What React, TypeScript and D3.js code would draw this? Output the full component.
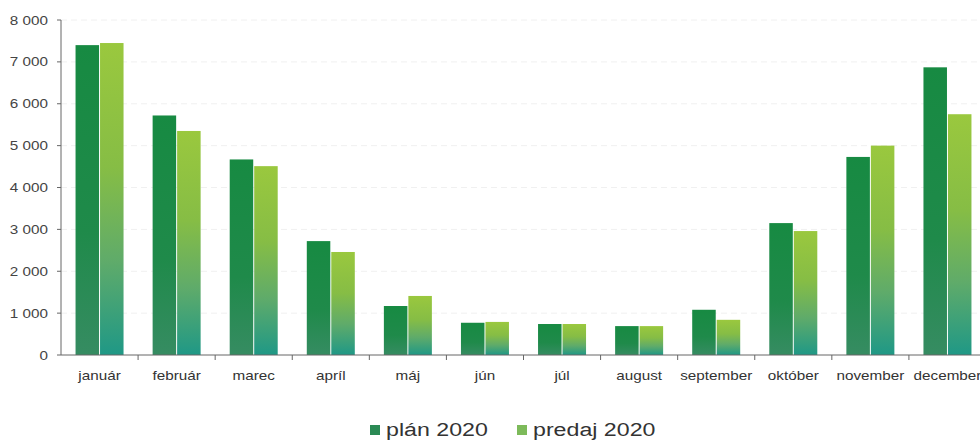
import React, { useRef, useEffect } from "react";
import * as d3 from "d3";

const months = [
  "január", "február", "marec", "apríl", "máj", "jún",
  "júl", "august", "september", "október", "november", "december",
];
const plan2020 = [7400, 5720, 4670, 2720, 1170, 770, 740, 690, 1080, 3150, 4730, 6870];
const predaj2020 = [7450, 5350, 4510, 2460, 1410, 790, 740, 690, 840, 2960, 5000, 5750];
const seriesNames = ["plán 2020", "predaj 2020"];
const yTicks = [0, 1000, 2000, 3000, 4000, 5000, 6000, 7000, 8000];

const W = 980;
const H = 440;
const margin = { top: 20, right: -6, bottom: 85, left: 61 };
const SX = 1.22; // the picture's text is stretched horizontally
const FONT = "Liberation Sans, Arial, sans-serif";

const fmt = (v: number) => d3.format(",")(v).replace(/,/g, " ");

const App = () => {
  const svgRef = useRef<SVGSVGElement>(null);

  useEffect(() => {
    document.body.style.margin = "0";
    const svg = d3.select(svgRef.current);
    svg.selectAll("*").remove();

    const defs = svg.append("defs");
    const g1 = defs.append("linearGradient").attr("id", "gPlan").attr("x1", 0).attr("y1", 0).attr("x2", 0).attr("y2", 1);
    g1.append("stop").attr("offset", "0%").attr("stop-color", "#178a42");
    g1.append("stop").attr("offset", "60%").attr("stop-color", "#1f8a4a");
    g1.append("stop").attr("offset", "100%").attr("stop-color", "#368c62");
    const g2 = defs.append("linearGradient").attr("id", "gPredaj").attr("x1", 0).attr("y1", 0).attr("x2", 0).attr("y2", 1);
    g2.append("stop").attr("offset", "0%").attr("stop-color", "#9ac83e");
    g2.append("stop").attr("offset", "40%").attr("stop-color", "#86bd45");
    g2.append("stop").attr("offset", "70%").attr("stop-color", "#5fab6a");
    g2.append("stop").attr("offset", "100%").attr("stop-color", "#1f9886");

    const x = d3.scaleBand<string>().domain(months).range([margin.left, W - margin.right]);
    const x1 = d3.scaleBand<number>().domain([0, 1]).range([0, 48]).paddingInner(0.04);
    const y = d3.scaleLinear().domain([0, 8000]).range([H - margin.bottom, margin.top]);

    // faint grid
    svg.append("g")
      .selectAll("line")
      .data(yTicks.slice(1))
      .join("line")
      .attr("x1", margin.left)
      .attr("x2", W)
      .attr("y1", (d) => y(d))
      .attr("y2", (d) => y(d))
      .attr("stroke", "#f0f0f0")
      .attr("stroke-dasharray", "6,4");

    const fills = ["url(#gPlan)", "url(#gPredaj)"];
    const data = [plan2020, predaj2020];

    const groups = svg.append("g")
      .selectAll("g")
      .data(months)
      .join("g")
      .attr("transform", (m) => `translate(${x(m)! + x.bandwidth() / 2 - 24},0)`);

    groups.selectAll("rect")
      .data((m, i) => data.map((s, k) => ({ k, v: s[i] })))
      .join("rect")
      .attr("x", (d) => x1(d.k)!)
      .attr("width", x1.bandwidth())
      .attr("y", (d) => y(d.v))
      .attr("height", (d) => y(0) - y(d.v))
      .attr("fill", (d) => fills[d.k]);

    // y axis
    const yAxis = svg.append("g");
    yAxis.append("line")
      .attr("x1", margin.left).attr("x2", margin.left)
      .attr("y1", y(0)).attr("y2", y(8000))
      .attr("stroke", "#666");
    yAxis.selectAll("line.tk")
      .data(yTicks)
      .join("line")
      .attr("class", "tk")
      .attr("x1", margin.left - 4)
      .attr("x2", margin.left)
      .attr("y1", (d) => y(d))
      .attr("y2", (d) => y(d))
      .attr("stroke", "#666");
    yAxis.selectAll("text")
      .data(yTicks)
      .join("text")
      .attr("transform", (d) => `translate(${margin.left - 13},${y(d) + 4.5}) scale(${SX},1)`)
      .attr("text-anchor", "end")
      .attr("fill", "#444")
      .attr("font-size", 12.5)
      .attr("font-family", FONT)
      .text((d) => fmt(d));

    // x axis
    const xAxisG = svg.append("g").attr("transform", `translate(0,${y(0)})`);
    xAxisG.append("line").attr("x1", margin.left).attr("x2", W).attr("stroke", "#666");
    xAxisG.selectAll("line.tk")
      .data(months.slice(1))
      .join("line")
      .attr("class", "tk")
      .attr("x1", (m) => x(m)!)
      .attr("x2", (m) => x(m)!)
      .attr("y1", 0)
      .attr("y2", 5)
      .attr("stroke", "#666");
    xAxisG.selectAll("text")
      .data(months)
      .join("text")
      .attr("transform", (m) => `translate(${x(m)! + x.bandwidth() / 2},25) scale(${SX},1)`)
      .attr("text-anchor", "middle")
      .attr("fill", "#333")
      .attr("font-size", 12.5)
      .attr("font-family", FONT)
      .text((m) => m);

    // legend
    const legend = svg.append("g").attr("transform", "translate(370,436)");
    const lx = [0, 147];
    const legendFills = ["#2b8a55", "#7dba5a"];
    seriesNames.forEach((n, i) => {
      legend.append("rect").attr("x", lx[i]).attr("y", -11).attr("width", 10).attr("height", 10).attr("fill", legendFills[i]);
      legend.append("text")
        .attr("transform", `translate(${lx[i] + 16},0) scale(${SX},1)`)
        .attr("fill", "#333")
        .attr("font-size", 19)
        .attr("font-family", FONT)
        .text(n);
    });
  }, []);

  return <svg ref={svgRef} width={W} height={H} style={{ display: "block", background: "#fff" }} />;
};

export default App;
